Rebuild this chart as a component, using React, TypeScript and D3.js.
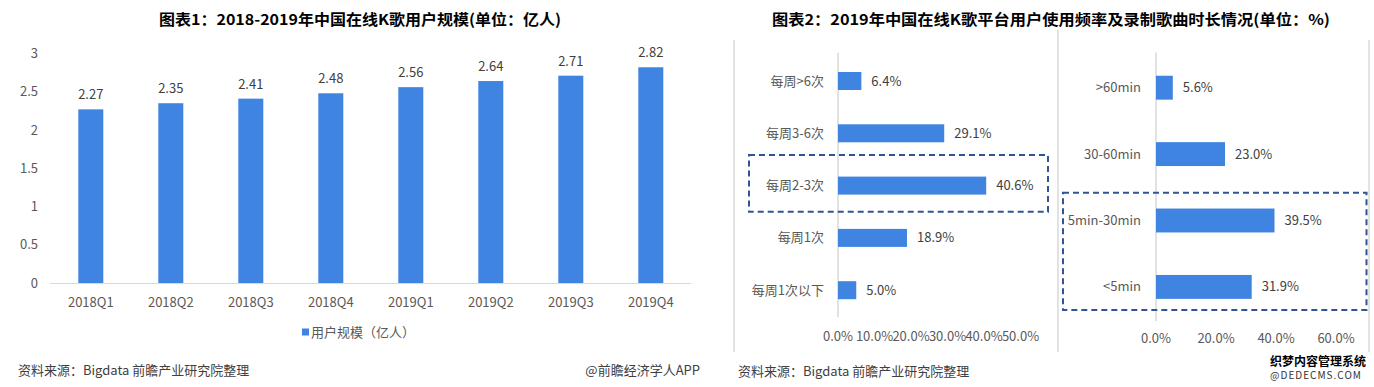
import React, { useEffect, useRef } from "react";
import * as d3 from "d3";

// chart 1 data
const quarters = ["2018Q1", "2018Q2", "2018Q3", "2018Q4", "2019Q1", "2019Q2", "2019Q3", "2019Q4"];
const users = [2.27, 2.35, 2.41, 2.48, 2.56, 2.64, 2.71, 2.82];
const userTicks = [0, 0.5, 1, 1.5, 2, 2.5, 3];

// chart 2 data
const freqCats = ["每周>6次", "每周3-6次", "每周2-3次", "每周1次", "每周1次以下"];
const freqVals = [6.4, 29.1, 40.6, 18.9, 5.0];
const freqTicks = [0, 10, 20, 30, 40, 50];

const durCats = [">60min", "30-60min", "5min-30min", "<5min"];
const durVals = [5.6, 23.0, 39.5, 31.9];
const durTicks = [0, 20, 40, 60];

const FONT = "'Noto Sans CJK SC', 'Noto Sans', sans-serif";
const BAR = "#3E84E0";
const GRAY = "#595959";
const LINE = "#d9d9d9";
const DASH = "#2F5597";

function drawHBars(g, cats, vals, ticks, opt) {
  const x = d3.scaleLinear().domain([0, ticks[ticks.length - 1]]).range([opt.x0, opt.x1]);
  const y = d3.scaleBand().domain(cats).range([opt.y0, opt.y1]).paddingInner(opt.pad).paddingOuter(opt.pad / 2);

  g.append("line")
    .attr("x1", x(0)).attr("x2", x(0))
    .attr("y1", opt.y0 - 2).attr("y2", opt.y1 + 1)
    .attr("stroke", LINE).attr("stroke-width", 1.5);

  g.selectAll(".bar").data(cats).join("rect")
    .attr("x", x(0))
    .attr("y", d => y(d))
    .attr("width", (d, i) => x(vals[i]) - x(0))
    .attr("height", y.bandwidth())
    .attr("fill", BAR);

  g.selectAll(".cat").data(cats).join("text")
    .attr("x", opt.labelX)
    .attr("y", d => y(d) + y.bandwidth() / 2)
    .attr("dy", "0.35em")
    .attr("text-anchor", "end")
    .attr("fill", GRAY)
    .style("font-size", "13px")
    .text(d => d);

  g.selectAll(".val").data(cats).join("text")
    .attr("x", (d, i) => x(vals[i]) + 10)
    .attr("y", d => y(d) + y.bandwidth() / 2)
    .attr("dy", "0.35em")
    .attr("fill", "#404040")
    .style("font-size", "13px")
    .text((d, i) => vals[i].toFixed(1) + "%");

  g.selectAll(".tick").data(ticks).join("text")
    .attr("x", d => x(d))
    .attr("y", opt.tickY)
    .attr("dy", "0.35em")
    .attr("text-anchor", "middle")
    .attr("fill", GRAY)
    .style("font-size", "13px")
    .text(d => d.toFixed(1) + "%");

  g.append("rect")
    .attr("x", opt.box[0]).attr("y", opt.box[1])
    .attr("width", opt.box[2] - opt.box[0]).attr("height", opt.box[3] - opt.box[1])
    .attr("fill", "none").attr("stroke", DASH)
    .attr("stroke-width", 2).attr("stroke-dasharray", "6 4");
}

export default function App() {
  const ref = useRef(null);

  useEffect(() => {
    const svg = d3.select(ref.current);
    svg.selectAll("*").remove();
    svg.style("font-family", FONT);

    // ---------- chart 1 ----------
    const c1 = svg.append("g");
    c1.append("text")
      .attr("x", 360).attr("y", 25)
      .attr("text-anchor", "middle")
      .attr("textLength", 402).attr("lengthAdjust", "spacingAndGlyphs")
      .style("font-size", "15px").style("font-weight", "bold")
      .text("图表1：2018-2019年中国在线K歌用户规模(单位：亿人)");

    const xScale = d3.scaleBand().domain(quarters).range([50.8, 690.8]).paddingInner(0.6875).paddingOuter(0.34375);
    const yScale = d3.scaleLinear().domain([0, 3]).range([283, 53.5]);

    c1.selectAll(".ytick").data(userTicks).join("text")
      .attr("x", 38).attr("y", d => yScale(d))
      .attr("dy", "0.35em").attr("text-anchor", "end")
      .attr("fill", GRAY).style("font-size", "13px")
      .text(d => d);

    c1.append("line")
      .attr("x1", 50).attr("x2", 691)
      .attr("y1", 283.5).attr("y2", 283.5)
      .attr("stroke", LINE);

    c1.selectAll(".bar").data(quarters).join("rect")
      .attr("x", d => xScale(d))
      .attr("y", (d, i) => yScale(users[i]))
      .attr("width", xScale.bandwidth())
      .attr("height", (d, i) => yScale(0) - yScale(users[i]))
      .attr("fill", BAR);

    c1.selectAll(".val").data(quarters).join("text")
      .attr("x", d => xScale(d) + xScale.bandwidth() / 2)
      .attr("y", (d, i) => yScale(users[i]) - 10)
      .attr("text-anchor", "middle")
      .attr("fill", "#404040").style("font-size", "13px")
      .text((d, i) => users[i].toFixed(2));

    c1.selectAll(".xtick").data(quarters).join("text")
      .attr("x", d => xScale(d) + xScale.bandwidth() / 2)
      .attr("y", 302).attr("dy", "0.35em")
      .attr("text-anchor", "middle")
      .attr("fill", GRAY).style("font-size", "13px")
      .text(d => d);

    // legend
    c1.append("rect").attr("x", 302).attr("y", 328.5).attr("width", 7).attr("height", 7).attr("fill", BAR);
    c1.append("text").attr("x", 311).attr("y", 332).attr("dy", "0.35em")
      .attr("fill", GRAY).style("font-size", "13px")
      .text("用户规模（亿人）");

    c1.append("text").attr("x", 18).attr("y", 370).attr("dy", "0.35em")
      .attr("fill", "#404040").style("font-size", "13px")
      .text("资料来源：Bigdata 前瞻产业研究院整理");
    c1.append("text").attr("x", 700).attr("y", 370).attr("dy", "0.35em")
      .attr("text-anchor", "end")
      .attr("fill", "#404040").style("font-size", "13px")
      .text("@前瞻经济学人APP");

    // ---------- chart 2 ----------
    const c2 = svg.append("g");
    c2.append("text")
      .attr("x", 1051).attr("y", 25)
      .attr("text-anchor", "middle")
      .attr("textLength", 558).attr("lengthAdjust", "spacingAndGlyphs")
      .style("font-size", "15px").style("font-weight", "bold")
      .text("图表2：2019年中国在线K歌平台用户使用频率及录制歌曲时长情况(单位：%)");

    // panel borders
    [[734, 40], [1058, 30], [1369, 40]].forEach(([bx, top]) => {
      c2.append("line")
        .attr("x1", bx).attr("x2", bx).attr("y1", top).attr("y2", 352)
        .attr("stroke", "#e3e3e3").attr("stroke-width", 2);
    });

    drawHBars(c2.append("g"), freqCats, freqVals, freqTicks, {
      x0: 838, x1: 1020.5, y0: 54.85, y1: 316.35, pad: 0.656,
      labelX: 824, tickY: 336, box: [749, 155, 1048, 211.7],
    });

    drawHBars(c2.append("g"), durCats, durVals, durTicks, {
      x0: 1156, x1: 1336, y0: 54.5, y1: 320.1, pad: 0.64,
      labelX: 1141, tickY: 338, box: [1063, 192.7, 1366.5, 310],
    });

    c2.append("text").attr("x", 738).attr("y", 371).attr("dy", "0.35em")
      .attr("fill", "#404040").style("font-size", "13px")
      .text("资料来源：Bigdata 前瞻产业研究院整理");

    // stamp at bottom right
    c2.append("text").attr("x", 1318).attr("y", 362).attr("dy", "0.35em")
      .attr("text-anchor", "middle").attr("fill", "#000")
      .style("font-size", "12px").style("font-weight", "bold")
      .text("织梦内容管理系统");
    c2.append("text").attr("x", 1316).attr("y", 375).attr("dy", "0.35em")
      .attr("text-anchor", "middle").attr("fill", "#333")
      .style("font-size", "10px").style("letter-spacing", "1px")
      .text("@DEDECMS.COM");
  }, []);

  return (
    <svg
      ref={ref}
      width={1374}
      height={387}
      style={{ position: "absolute", left: 0, top: 0, background: "#fff" }}
    />
  );
}
